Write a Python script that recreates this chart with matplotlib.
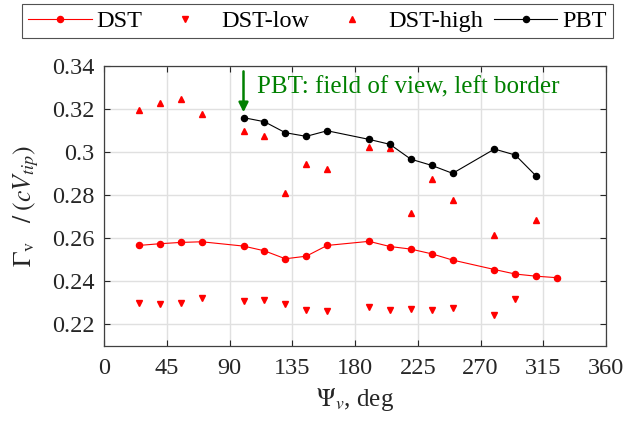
import matplotlib
matplotlib.use("Agg")
import matplotlib.pyplot as plt

plt.rcParams['font.family'] = ['Liberation Serif', 'DejaVu Serif']
plt.rcParams['mathtext.fontset'] = 'stix'

# Azimuth positions (deg)
psi_dst = [25, 40, 55, 70, 100, 115, 130, 145, 160, 190, 205, 220, 235, 250, 280, 295, 310, 325]
gamma_dst = [0.2566, 0.2574, 0.2580, 0.2583, 0.2563, 0.2541, 0.2504, 0.2516, 0.2566,
             0.2585, 0.2561, 0.2549, 0.2527, 0.2498, 0.2454, 0.2433, 0.2423, 0.2416]

psi_low = [25, 40, 55, 70, 100, 115, 130, 145, 160, 190, 205, 220, 235, 250, 280, 295]
gamma_low = [0.2300, 0.2296, 0.2300, 0.2321, 0.2307, 0.2312, 0.2295, 0.2268, 0.2259,
             0.2281, 0.2267, 0.2272, 0.2264, 0.2274, 0.2244, 0.2315]

psi_high = [25, 40, 55, 70, 100, 115, 130, 145, 160, 190, 205, 220, 235, 250, 280, 310]
gamma_high = [0.3195, 0.3228, 0.3245, 0.3175, 0.3096, 0.3073, 0.2809, 0.2943, 0.2921,
              0.3022, 0.3019, 0.2716, 0.2876, 0.2775, 0.2613, 0.2686]

psi_pbt = [100, 115, 130, 145, 160, 190, 205, 220, 235, 250, 280, 295, 310]
gamma_pbt = [0.3160, 0.3141, 0.3090, 0.3073, 0.3099, 0.3059, 0.3036, 0.2967, 0.2938,
             0.2901, 0.3014, 0.2986, 0.2888]

x_ticks = [0, 45, 90, 135, 180, 225, 270, 315, 360]
y_ticks = [0.22, 0.24, 0.26, 0.28, 0.30, 0.32, 0.34]
y_ticklabels = ['0.22', '0.24', '0.26', '0.28', '0.3', '0.32', '0.34']

FS = 17.5

fig = plt.figure(figsize=(6.27, 4.25), dpi=100)
ax = fig.add_axes([0.166, 0.1866, 0.8005, 0.6581])

ax.plot(psi_dst, gamma_dst, '-o', color='red', lw=0.8, ms=4.4, label='DST', zorder=3)
ax.plot(psi_low, gamma_low, 'v', color='red', ms=5.0, label='DST-low', zorder=3)
ax.plot(psi_high, gamma_high, '^', color='red', ms=5.0, label='DST-high', zorder=3)
ax.plot(psi_pbt, gamma_pbt, '-o', color='black', lw=0.8, ms=4.4, label='PBT', zorder=3)

ax.annotate('', xy=(100, 0.3185), xytext=(100, 0.3375),
            arrowprops=dict(arrowstyle='-|>', color='green', lw=1.8,
                            mutation_scale=14, shrinkA=0, shrinkB=0))
ax.text(110, 0.3302, 'PBT: field of view, left border', color='green',
        fontsize=18, va='center', ha='left')

ax.set_xlim(0, 360)
ax.set_ylim(0.21, 0.34)
ax.set_xticks(x_ticks)
ax.set_yticks(y_ticks)
ax.set_yticklabels(y_ticklabels)
ax.tick_params(direction='in', top=True, right=True, labelsize=FS,
               colors='#262626', length=4, width=0.8)
ax.tick_params(axis='x', pad=9)
ax.tick_params(axis='y', pad=7)
ax.grid(True, color='#e0e0e0', lw=1.0)
ax.set_axisbelow(True)
for s in ax.spines.values():
    s.set_color('#404040')
    s.set_linewidth(0.9)

ax.set_xlabel(r'$\Psi_{v}$, deg', fontsize=FS + 0.5, color='#262626', labelpad=5)
ax.set_ylabel(r'$\Gamma_{\mathrm{v}}\quad/\;(cV_{tip})$', fontsize=FS + 1,
              color='#262626', labelpad=8)

leg = fig.legend(*ax.get_legend_handles_labels(), loc='upper center',
                 bbox_to_anchor=(0.5064, 1 - 4 / 425), ncol=4,
                 fontsize=FS, frameon=True, fancybox=False, edgecolor='#262626',
                 handlelength=2.6, handletextpad=0.2, columnspacing=0.45,
                 borderpad=0.25, borderaxespad=0)
leg.get_frame().set_linewidth(0.8)

fig.savefig('out.png', dpi=100)
